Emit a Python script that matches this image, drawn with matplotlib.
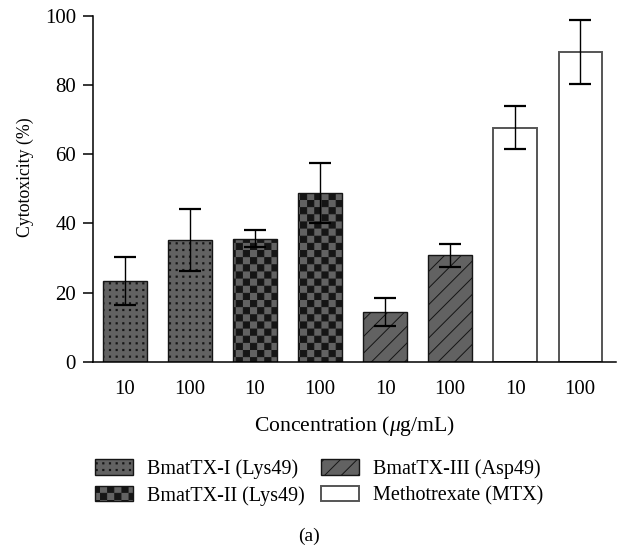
import warnings
warnings.filterwarnings("ignore")
import numpy as np
import matplotlib
matplotlib.use("Agg")
import matplotlib.pyplot as plt
import matplotlib.hatch as mhatch
from matplotlib.path import Path

# ---------------- data ----------------
categories = ['10', '100', '10', '100', '10', '100', '10', '100']
groups = ['BmatTX-I (Lys49)', 'BmatTX-II (Lys49)', 'BmatTX-III (Asp49)', 'Methotrexate (MTX)']
group_of_bar = [0, 0, 1, 1, 2, 2, 3, 3]
means = [23.3, 35.2, 35.6, 48.8, 14.4, 30.8, 67.7, 89.5]
errors = [6.9, 8.9, 2.4, 8.7, 4.1, 3.4, 6.2, 9.3]
yticks = [0, 20, 40, 60, 80, 100]

DPI = 100
HATCH_LW = 0.7  # points
plt.rcParams['hatch.linewidth'] = HATCH_LW
shrink = (HATCH_LW * DPI / 72.0) / 2.0 / DPI  # compensate stroke in hatch units


# -------- custom hatch patterns (checkerboard 'k', dot grid 'd') --------
class CheckerHatch(mhatch.HatchPatternBase):
    def __init__(self, hatch, density):
        self.n = 14 if 'k' in hatch else 0
        self.num_vertices = (self.n * self.n // 2) * 5

    def set_vertices_and_codes(self, vertices, codes):
        n = self.n
        s = 1.0 / n
        k = 0
        for i in range(n):
            for j in range(n):
                if (i + j) % 2 == 0:
                    x0, y0 = i * s + shrink, j * s + shrink
                    x1, y1 = (i + 1) * s - shrink, (j + 1) * s - shrink
                    vertices[k:k + 5] = [(x0, y0), (x1, y0), (x1, y1), (x0, y1), (x0, y0)]
                    codes[k:k + 5] = [Path.MOVETO, Path.LINETO, Path.LINETO,
                                      Path.LINETO, Path.CLOSEPOLY]
                    k += 5


class DotGridHatch(mhatch.HatchPatternBase):
    def __init__(self, hatch, density):
        self.n = 15 if 'd' in hatch else 0
        self.num_vertices = self.n * self.n * 5

    def set_vertices_and_codes(self, vertices, codes):
        n = self.n
        s = 1.0 / n
        h = 0.006
        k = 0
        for i in range(n):
            for j in range(n):
                cx, cy = (i + 0.5) * s, (j + 0.5) * s
                vertices[k:k + 5] = [(cx - h, cy - h), (cx + h, cy - h), (cx + h, cy + h),
                                     (cx - h, cy + h), (cx - h, cy - h)]
                codes[k:k + 5] = [Path.MOVETO, Path.LINETO, Path.LINETO,
                                  Path.LINETO, Path.CLOSEPOLY]
                k += 5


mhatch._hatch_types.append(CheckerHatch)
mhatch._hatch_types.append(DotGridHatch)

plt.rcParams['font.family'] = ['Liberation Serif', 'DejaVu Serif']
plt.rcParams['mathtext.fontset'] = 'custom'
plt.rcParams['mathtext.it'] = 'Liberation Serif:italic'
plt.rcParams['mathtext.rm'] = 'Liberation Serif'

styles = [
    dict(facecolor='#626262', edgecolor='#151515', hatch='d', linewidth=1.0),
    dict(facecolor='#626262', edgecolor='#151515', hatch='k', linewidth=1.0),
    dict(facecolor='#626262', edgecolor='#151515', hatch='//', linewidth=1.0),
    dict(facecolor='white', edgecolor='#555555', hatch=None, linewidth=1.4),
]

fig = plt.figure(figsize=(6.19, 5.5), dpi=DPI)
ax = fig.add_axes([93 / 619, 1 - 362 / 550, (616 - 93) / 619, (362 - 15.7) / 550])

x = np.arange(len(categories))
handles = []
for g in range(len(groups)):
    idx = [i for i, gg in enumerate(group_of_bar) if gg == g]
    b = ax.bar(x[idx], [means[i] for i in idx], width=0.667, label=groups[g],
               zorder=2, **styles[g])
    handles.append(b)

ax.errorbar(x, means, yerr=errors, fmt='none', ecolor='black', elinewidth=1.0,
            capsize=7.8, capthick=1.6, zorder=3)

ax.set_xlim(-0.49, 7.55)
ax.set_ylim(0, 100)
ax.set_yticks(yticks)
ax.set_xticks(x)
ax.set_xticklabels(categories)
ax.spines['top'].set_visible(False)
ax.spines['right'].set_visible(False)
ax.spines['left'].set_linewidth(1.1)
ax.spines['bottom'].set_linewidth(1.1)
ax.tick_params(axis='y', length=7.2, width=1.1, pad=5, labelsize=15)
ax.tick_params(axis='x', length=0, pad=13, labelsize=15)

ax.set_xlabel('Concentration ($\\mu$g/mL)', fontsize=15.6, labelpad=10.5)
ax.set_ylabel('Cytotoxicity (%)', fontsize=12.8)
ax.yaxis.set_label_coords(-0.113, 0.534)

fig.legend(handles=handles, labels=groups, loc='center',
           bbox_to_anchor=(0.516, 1 - 482.5 / 550), ncol=2, frameon=False,
           fontsize=14.5, handlelength=1.89, handleheight=0.8,
           handletextpad=0.7, columnspacing=0.8, labelspacing=0.35,
           borderpad=0, borderaxespad=0)

fig.text(0.499, 1 - 536.7 / 550, '(a)', ha='center', va='center', fontsize=14)

fig.savefig('out.png', dpi=DPI)
